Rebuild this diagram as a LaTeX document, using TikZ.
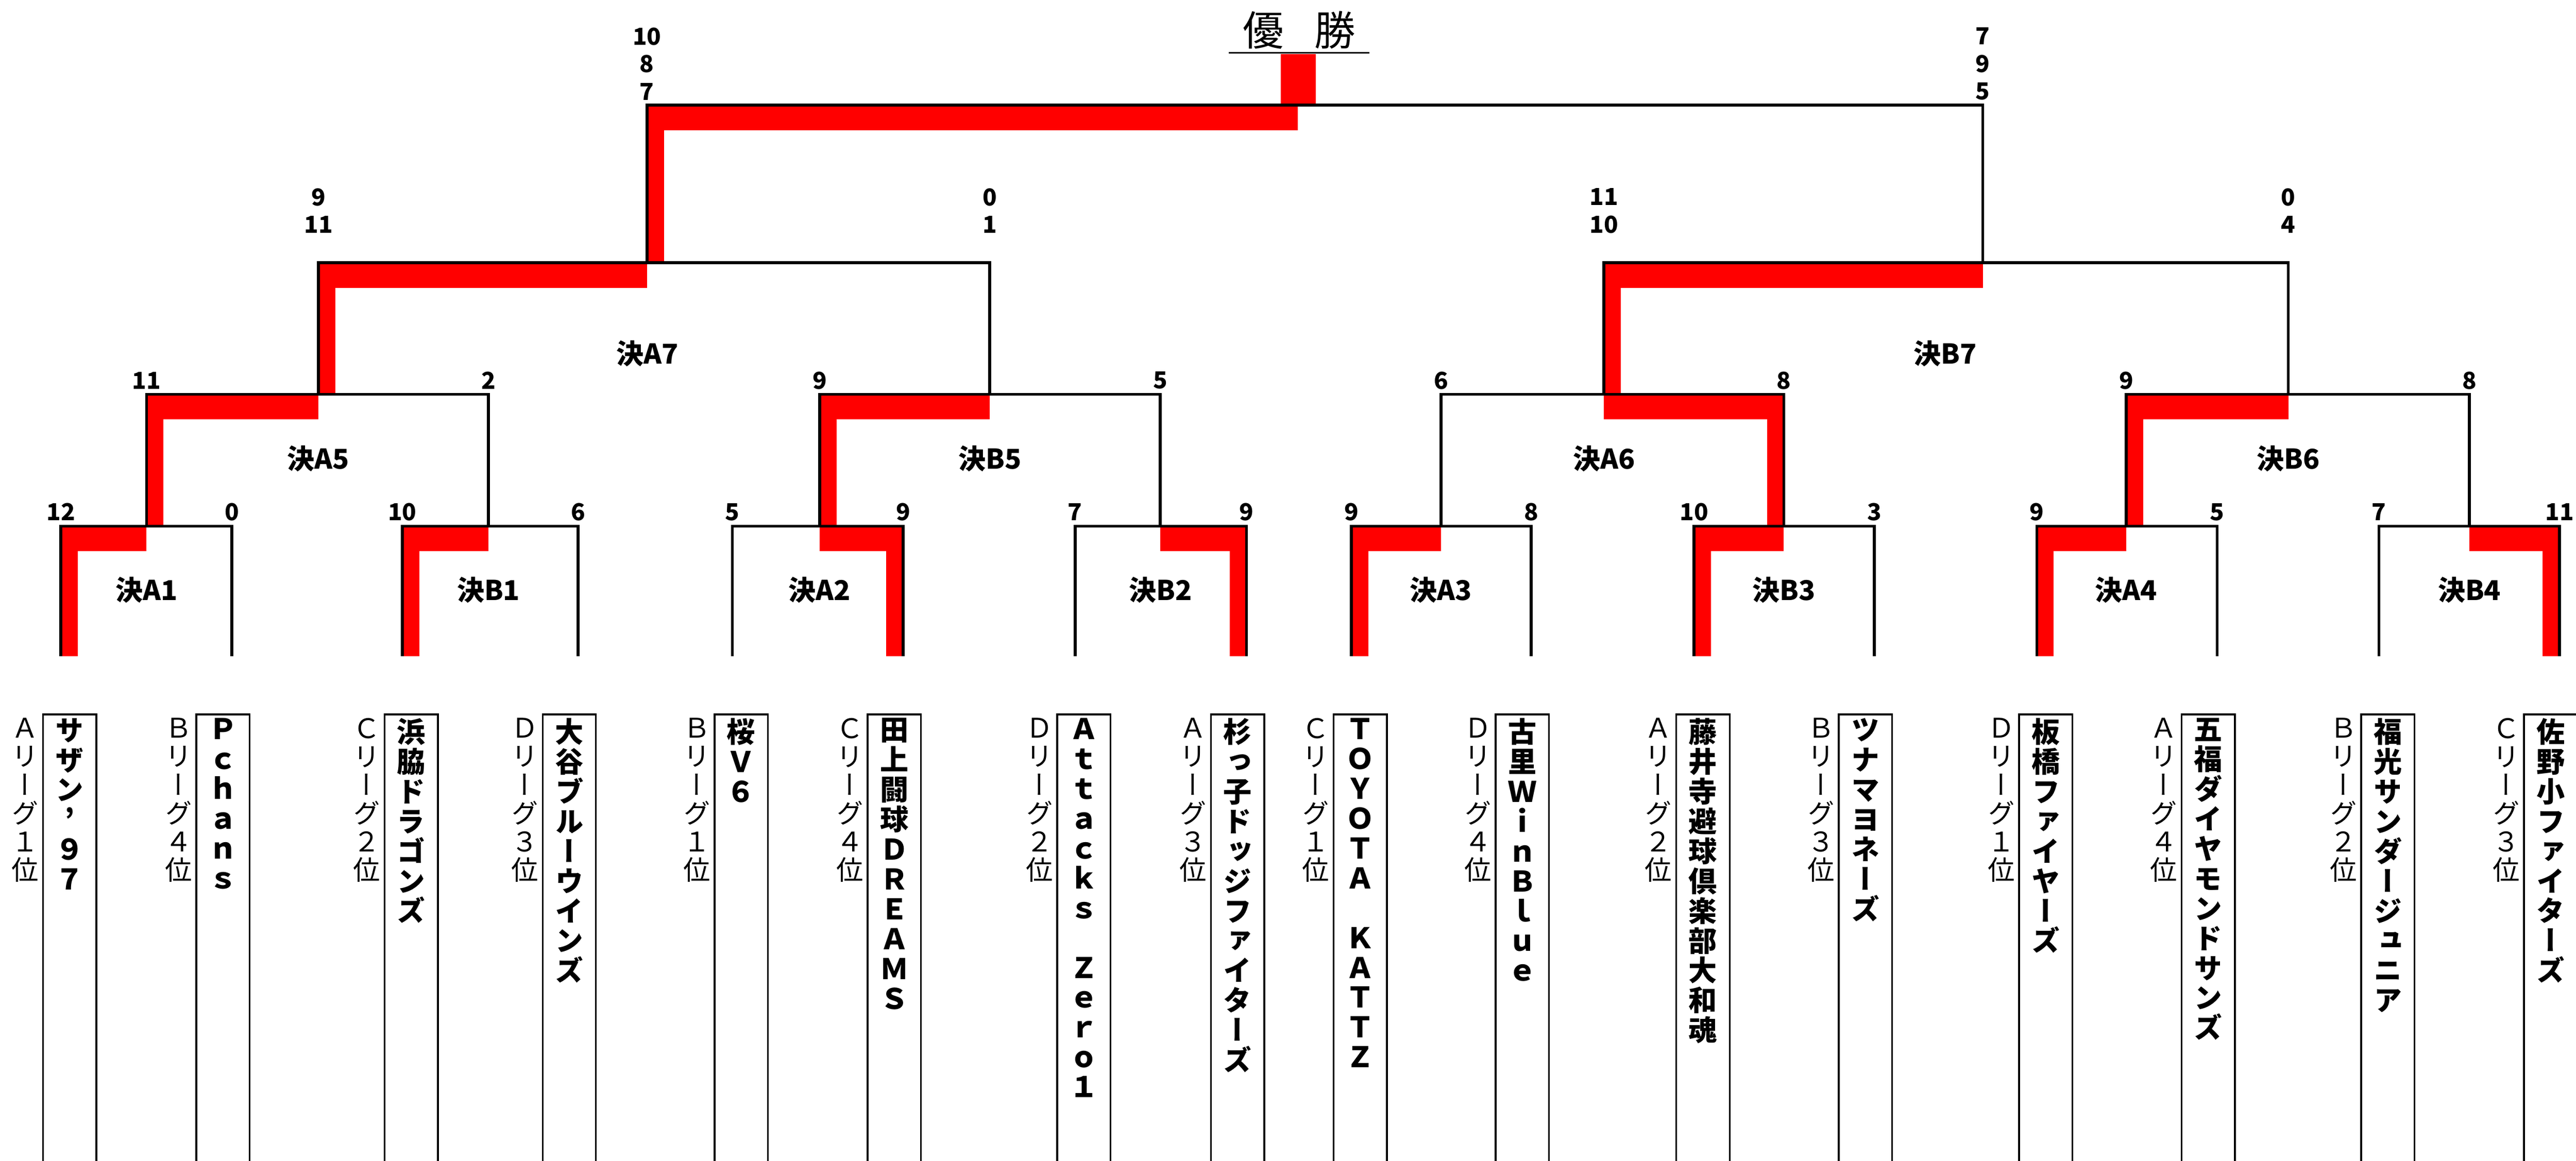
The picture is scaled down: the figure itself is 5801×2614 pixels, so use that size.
\documentclass[tikz,border=0pt]{standalone}
\usepackage{fontspec}
\setmainfont{Noto Sans CJK JP}
\newfontfamily\tatefont[RawFeature=+vert]{Noto Sans CJK JP}
\usetikzlibrary{calc}

\makeatletter
\newcommand\tatestack[1]{\vtop{\baselineskip=1.05em\lineskiplimit=-1em\lineskip=0pt\@tfor\tch:=#1\do{\hbox to 1em{\hss\tch\hss}}}}
\makeatother

\tikzstyle{bracket} = [line width=0.065cm]
\tikzstyle{win} = [fill=red]
\tikzstyle{score} = [inner sep=0, align=center, font=\bfseries\fontsize{15pt}{17.6pt}\selectfont]
\tikzstyle{matchlabel} = [inner sep=0, font=\bfseries\fontsize{17.5pt}{18pt}\selectfont]
\tikzstyle{teambox} = [draw, line width=0.04cm, anchor=north, minimum width=1.2cm, minimum height=10.5cm, inner sep=0]
\tikzstyle{teamname} = [anchor=north, yshift=-0.1cm, inner sep=0, font=\tatefont\bfseries\fontsize{18.2pt}{19pt}\selectfont]
\tikzstyle{league} = [anchor=north east, xshift=-0.07cm, yshift=-0.1cm, inner sep=0, font=\tatefont\fontsize{17.3pt}{18pt}\selectfont]
\tikzstyle{title} = [inner sep=0, font=\fontsize{26.2pt}{28pt}\selectfont]

\newcommand\winL[2]{\fill[win] (#1) rectangle ($(#1 |- #2)+(38,0)$); \fill[win] (#1 |- #2) rectangle ($(#2)+(0,56)$);}
\newcommand\winR[2]{\fill[win] ($(#1)+(-38,0)$) rectangle (#1 |- #2); \fill[win] (#2) rectangle ($(#1 |- #2)+(0,56)$);}

\begin{document}
\begin{tikzpicture}[x=0.01cm, y=-0.01cm]
	\useasboundingbox (0,0) rectangle (5801,2614);

	\coordinate (t1) at (137,1478);
	\coordinate (t2) at (522,1478);
	\coordinate (t3) at (906,1478);
	\coordinate (t4) at (1302,1478);
	\coordinate (t5) at (1649,1478);
	\coordinate (t6) at (2034,1478);
	\coordinate (t7) at (2421,1478);
	\coordinate (t8) at (2807,1478);
	\coordinate (t9) at (3043,1478);
	\coordinate (t10) at (3448,1478);
	\coordinate (t11) at (3815,1478);
	\coordinate (t12) at (4221,1478);
	\coordinate (t13) at (4587,1478);
	\coordinate (t14) at (4993,1478);
	\coordinate (t15) at (5357,1478);
	\coordinate (t16) at (5764,1478);

	\coordinate (a1) at (330,1185);
	\coordinate (b1) at (1100,1185);
	\coordinate (a2) at (1846,1185);
	\coordinate (b2) at (2613,1185);
	\coordinate (a3) at (3245,1185);
	\coordinate (b3) at (4017,1185);
	\coordinate (a4) at (4788,1185);
	\coordinate (b4) at (5561,1185);

	\coordinate (a5) at (717,888);
	\coordinate (b5) at (2229,888);
	\coordinate (a6) at (3612,888);
	\coordinate (b6) at (5153,888);

	\coordinate (a7) at (1457,592);
	\coordinate (b7) at (4465,592);

	\coordinate (fin) at (2923,237);
	\coordinate (ul1) at (2767,119);
	\coordinate (ul2) at (3084,119);

	\winL{t1}{a1}
	\winL{t3}{b1}
	\winR{t6}{a2}
	\winR{t8}{b2}
	\winL{t9}{a3}
	\winL{t11}{b3}
	\winL{t13}{a4}
	\winR{t16}{b4}
	\winL{a1}{a5}
	\winL{a2}{b5}
	\winR{b3}{a6}
	\winL{a4}{b6}
	\winL{a5}{a7}
	\winL{a6}{b7}
	\winL{a7}{fin}
	\fill[win] ($(fin)+(-39,0)$) rectangle ($(fin)+(40,-115)$);

	\draw[bracket] (t1) |- (a1) -| (t2);
	\draw[bracket] (t3) |- (b1) -| (t4);
	\draw[bracket] (t5) |- (a2) -| (t6);
	\draw[bracket] (t7) |- (b2) -| (t8);
	\draw[bracket] (t9) |- (a3) -| (t10);
	\draw[bracket] (t11) |- (b3) -| (t12);
	\draw[bracket] (t13) |- (a4) -| (t14);
	\draw[bracket] (t15) |- (b4) -| (t16);
	\draw[bracket] (a1) |- (a5) -| (b1);
	\draw[bracket] (a2) |- (b5) -| (b2);
	\draw[bracket] (a3) |- (a6) -| (b3);
	\draw[bracket] (a4) |- (b6) -| (b4);
	\draw[bracket] (a5) |- (a7) -| (b5);
	\draw[bracket] (a6) |- (b7) -| (b6);
	\draw[bracket] (a7) |- (fin) -| (b7);
	\draw[line width=0.04cm] (ul1) -- (ul2);

	\node[title] (yusho) at (2926,68) {優\hspace{0.69cm}勝};

	\node[score] (s1) at (137,1153) {12};
	\node[score] (s2) at (522,1153) {0};
	\node[score] (s3) at (906,1153) {10};
	\node[score] (s4) at (1302,1153) {6};
	\node[score] (s5) at (1649,1153) {5};
	\node[score] (s6) at (2034,1153) {9};
	\node[score] (s7) at (2421,1153) {7};
	\node[score] (s8) at (2807,1153) {9};
	\node[score] (s9) at (3043,1153) {9};
	\node[score] (s10) at (3448,1153) {8};
	\node[score] (s11) at (3815,1153) {10};
	\node[score] (s12) at (4221,1153) {3};
	\node[score] (s13) at (4587,1153) {9};
	\node[score] (s14) at (4993,1153) {5};
	\node[score] (s15) at (5357,1153) {7};
	\node[score] (s16) at (5764,1153) {11};

	\node[score] (sa1) at (330,857) {11};
	\node[score] (sb1) at (1100,857) {2};
	\node[score] (sa2) at (1846,857) {9};
	\node[score] (sb2) at (2613,857) {5};
	\node[score] (sa3) at (3245,857) {6};
	\node[score] (sb3) at (4017,857) {8};
	\node[score] (sa4) at (4788,857) {9};
	\node[score] (sb4) at (5561,857) {8};

	\node[score] (sa5) at (717,475) {9\\11};
	\node[score] (sb5) at (2229,475) {0\\1};
	\node[score] (sa6) at (3612,475) {11\\10};
	\node[score] (sb6) at (5153,475) {0\\4};

	\node[score] (sa7) at (1457,144) {10\\8\\7};
	\node[score] (sb7) at (4465,144) {7\\9\\5};

	\node[matchlabel] (la1) at (330,1329) {決A1};
	\node[matchlabel] (lb1) at (1100,1329) {決B1};
	\node[matchlabel] (la2) at (1846,1329) {決A2};
	\node[matchlabel] (lb2) at (2613,1329) {決B2};
	\node[matchlabel] (la3) at (3245,1329) {決A3};
	\node[matchlabel] (lb3) at (4017,1329) {決B3};
	\node[matchlabel] (la4) at (4788,1329) {決A4};
	\node[matchlabel] (lb4) at (5561,1329) {決B4};
	\node[matchlabel] (la5) at (717,1033) {決A5};
	\node[matchlabel] (lb5) at (2229,1033) {決B5};
	\node[matchlabel] (la6) at (3612,1033) {決A6};
	\node[matchlabel] (lb6) at (5153,1033) {決B6};
	\node[matchlabel] (la7) at (1458,796) {決A7};
	\node[matchlabel] (lb7) at (4380,796) {決B7};

	\node[teambox] (box1) at (157,1607) {};
	\node[teambox] (box2) at (502,1607) {};
	\node[teambox] (box3) at (926,1607) {};
	\node[teambox] (box4) at (1282,1607) {};
	\node[teambox] (box5) at (1669,1607) {};
	\node[teambox] (box6) at (2014,1607) {};
	\node[teambox] (box7) at (2441,1607) {};
	\node[teambox] (box8) at (2787,1607) {};
	\node[teambox] (box9) at (3063,1607) {};
	\node[teambox] (box10) at (3428,1607) {};
	\node[teambox] (box11) at (3835,1607) {};
	\node[teambox] (box12) at (4201,1607) {};
	\node[teambox] (box13) at (4607,1607) {};
	\node[teambox] (box14) at (4973,1607) {};
	\node[teambox] (box15) at (5377,1607) {};
	\node[teambox] (box16) at (5744,1607) {};

	\node[teamname] (name1) at (box1.north) {\tatestack{サザン’９７}};
	\node[teamname] (name2) at (box2.north) {\tatestack{Ｐｃｈａｎｓ}};
	\node[teamname] (name3) at (box3.north) {\tatestack{浜脇ドラゴンズ}};
	\node[teamname] (name4) at (box4.north) {\tatestack{大谷ブルーウインズ}};
	\node[teamname] (name5) at (box5.north) {\tatestack{桜Ｖ６}};
	\node[teamname] (name6) at (box6.north) {\tatestack{田上闘球ＤＲＥＡＭＳ}};
	\node[teamname] (name7) at (box7.north) {\tatestack{Ａｔｔａｃｋｓ　Ｚｅｒｏ１}};
	\node[teamname] (name8) at (box8.north) {\tatestack{杉っ子ドッジファイターズ}};
	\node[teamname] (name9) at (box9.north) {\tatestack{ＴＯＹＯＴＡ　ＫＡＴＴＺ}};
	\node[teamname] (name10) at (box10.north) {\tatestack{古里ＷｉｎＢｌｕｅ}};
	\node[teamname] (name11) at (box11.north) {\tatestack{藤井寺避球倶楽部大和魂}};
	\node[teamname] (name12) at (box12.north) {\tatestack{ツナマヨネーズ}};
	\node[teamname] (name13) at (box13.north) {\tatestack{板橋ファイヤーズ}};
	\node[teamname] (name14) at (box14.north) {\tatestack{五福ダイヤモンドサンズ}};
	\node[teamname] (name15) at (box15.north) {\tatestack{福光サンダージュニア}};
	\node[teamname] (name16) at (box16.north) {\tatestack{佐野小ファイターズ}};

	\node[league] (lg1) at (box1.north west) {\tatestack{Ａリーグ１位}};
	\node[league] (lg2) at (box2.north west) {\tatestack{Ｂリーグ４位}};
	\node[league] (lg3) at (box3.north west) {\tatestack{Ｃリーグ２位}};
	\node[league] (lg4) at (box4.north west) {\tatestack{Ｄリーグ３位}};
	\node[league] (lg5) at (box5.north west) {\tatestack{Ｂリーグ１位}};
	\node[league] (lg6) at (box6.north west) {\tatestack{Ｃリーグ４位}};
	\node[league] (lg7) at (box7.north west) {\tatestack{Ｄリーグ２位}};
	\node[league] (lg8) at (box8.north west) {\tatestack{Ａリーグ３位}};
	\node[league] (lg9) at (box9.north west) {\tatestack{Ｃリーグ１位}};
	\node[league] (lg10) at (box10.north west) {\tatestack{Ｄリーグ４位}};
	\node[league] (lg11) at (box11.north west) {\tatestack{Ａリーグ２位}};
	\node[league] (lg12) at (box12.north west) {\tatestack{Ｂリーグ３位}};
	\node[league] (lg13) at (box13.north west) {\tatestack{Ｄリーグ１位}};
	\node[league] (lg14) at (box14.north west) {\tatestack{Ａリーグ４位}};
	\node[league] (lg15) at (box15.north west) {\tatestack{Ｂリーグ２位}};
	\node[league] (lg16) at (box16.north west) {\tatestack{Ｃリーグ３位}};
\end{tikzpicture}
\end{document}
